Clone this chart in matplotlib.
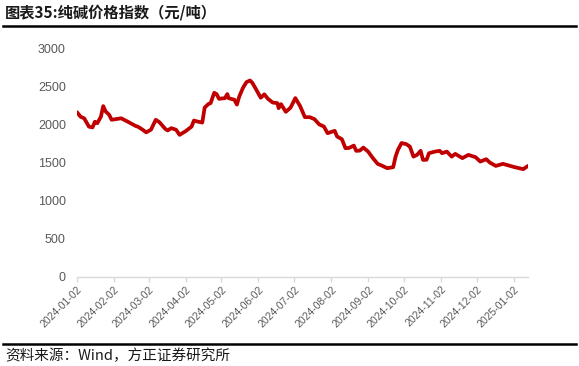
import numpy as np
import pandas as pd
import matplotlib
matplotlib.use("Agg")
import matplotlib.pyplot as plt
import matplotlib.dates as mdates
from matplotlib.lines import Line2D

plt.rcParams['font.family'] = ['Liberation Sans', 'Noto Sans CJK SC', 'DejaVu Sans']

# soda ash price index
dates = [
    "2024-01-02", "2024-01-05", "2024-01-08", "2024-01-12", "2024-01-15", "2024-01-17",
    "2024-01-19", "2024-01-22", "2024-01-24", "2024-01-26", "2024-01-29", "2024-01-31",
    "2024-02-04", "2024-02-08", "2024-02-13", "2024-02-20", "2024-02-22", "2024-02-26",
    "2024-02-29", "2024-03-04", "2024-03-08", "2024-03-11", "2024-03-16", "2024-03-18",
    "2024-03-21", "2024-03-25", "2024-03-28", "2024-04-02", "2024-04-07", "2024-04-09",
    "2024-04-12", "2024-04-16", "2024-04-18", "2024-04-21", "2024-04-23", "2024-04-26",
    "2024-04-28", "2024-04-30", "2024-05-05", "2024-05-07", "2024-05-08", "2024-05-13",
    "2024-05-15", "2024-05-17", "2024-05-20", "2024-05-23", "2024-05-26", "2024-05-28",
    "2024-05-31", "2024-06-04", "2024-06-07", "2024-06-10", "2024-06-14", "2024-06-18",
    "2024-06-19", "2024-06-21", "2024-06-25", "2024-06-29", "2024-07-03", "2024-07-07",
    "2024-07-11", "2024-07-15", "2024-07-19", "2024-07-23", "2024-07-27", "2024-07-30",
    "2024-08-05", "2024-08-07", "2024-08-11", "2024-08-14", "2024-08-17", "2024-08-21",
    "2024-08-23", "2024-08-26", "2024-08-29", "2024-09-02", "2024-09-06", "2024-09-10",
    "2024-09-14", "2024-09-18", "2024-09-23", "2024-09-25", "2024-09-27", "2024-09-30",
    "2024-10-04", "2024-10-07", "2024-10-10", "2024-10-13", "2024-10-16", "2024-10-18",
    "2024-10-21", "2024-10-23", "2024-10-28", "2024-11-01", "2024-11-03", "2024-11-07",
    "2024-11-11", "2024-11-14", "2024-11-20", "2024-11-25", "2024-12-01", "2024-12-05",
    "2024-12-10", "2024-12-13", "2024-12-18", "2024-12-24", "2024-12-30", "2025-01-03",
    "2025-01-10", "2025-01-14",
]
price = [
    2160, 2100, 2080, 1970, 1960, 2035,
    2015, 2100, 2240, 2170, 2125, 2060,
    2070, 2080, 2040, 1980, 1970, 1930,
    1895, 1930, 2060, 2030, 1940, 1920,
    1950, 1930, 1862, 1910, 1970, 2050,
    2037, 2024, 2220, 2266, 2280, 2415,
    2398, 2336, 2345, 2398, 2345, 2323,
    2260, 2366, 2477, 2555, 2577, 2545,
    2463, 2350, 2395, 2336, 2287, 2279,
    2213, 2266, 2165, 2220, 2345, 2240,
    2095, 2095, 2069, 2000, 1971, 1884,
    1915, 1840, 1805, 1687, 1690, 1721,
    1652, 1655, 1695, 1642, 1556, 1481,
    1454, 1424, 1437, 1576, 1665, 1755,
    1740, 1708, 1576, 1599, 1652, 1533,
    1535, 1621, 1642, 1652, 1621, 1642,
    1576, 1612, 1556, 1599, 1569, 1511,
    1542, 1498, 1454, 1481, 1454, 1437,
    1411, 1454,
]
tick_dates = ["2024-%02d-02" % m for m in range(1, 13)] + ["2025-01-02"]
yticks = [0, 500, 1000, 1500, 2000, 2500, 3000]

x = pd.to_datetime(dates)

fig = plt.figure(figsize=(5.79, 3.66), dpi=100)
ax = fig.add_axes([77 / 579, 1 - 276.5 / 366, (528 - 77) / 579, (276.5 - 48.3) / 366])

ax.plot(x, price, color='#C00000', lw=2.7, solid_joinstyle='round', solid_capstyle='round')

ax.set_xlim(x[0], x[-1])
ax.set_ylim(0, 3000)
ax.set_yticks(yticks)
ax.set_xticks(pd.to_datetime(tick_dates))
ax.xaxis.set_major_formatter(mdates.DateFormatter('%Y-%m-%d'))

for s in ['top', 'right', 'left']:
    ax.spines[s].set_visible(False)
ax.spines['bottom'].set_color('#d9d9d9')
ax.spines['bottom'].set_linewidth(1.0)

ax.tick_params(axis='y', length=0, pad=8, labelsize=9, labelcolor='#595959')
ax.tick_params(axis='x', length=3.5, color='#d9d9d9', width=1.0, pad=2,
               labelsize=7.5, labelcolor='#595959')
for lab in ax.get_xticklabels():
    lab.set_rotation(45)
    lab.set_ha('right')
    lab.set_rotation_mode('anchor')

# title and source
fig.text(5 / 579, 1 - 13 / 366, '图表35:纯碱价格指数（元/吨）', fontsize=11, fontweight='bold',
         family=['Noto Sans CJK SC', 'DejaVu Sans'], va='center', ha='left', color='#1a1a1a')
fig.add_artist(Line2D([3 / 579, 576 / 579], [1 - 25.5 / 366] * 2, color='black', lw=1.8,
                      transform=fig.transFigure))
fig.add_artist(Line2D([3 / 579, 576 / 579], [1 - 344 / 366] * 2, color='black', lw=1.8,
                      transform=fig.transFigure))
fig.text(5 / 579, 1 - 356 / 366, '资料来源：Wind，方正证券研究所', fontsize=10.5, style='italic',
         family=['Noto Sans CJK SC', 'DejaVu Sans'], va='center', ha='left', color='#1a1a1a')

fig.savefig('out.png', dpi=100)
